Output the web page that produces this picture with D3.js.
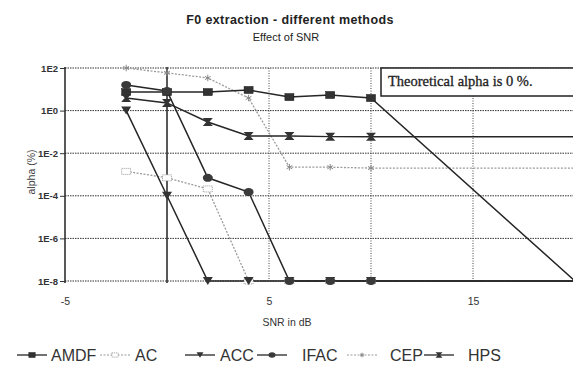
<!DOCTYPE html>
<html>
<head>
<meta charset="utf-8">
<script src="https://cdn.jsdelivr.net/npm/d3@7"></script>
<style>
  body { margin: 0; background: #fff; }
  svg { display: block; }
</style>
</head>
<body>
<svg id="chart" width="573" height="376"></svg>
<script>
// SNR values (dB) with markers; the last point of every series sits at TAIL_SNR
const snr = [-2, 0, 2, 4, 6, 8, 10];
const TAIL_SNR = 20;

// alpha (%) per method
const amdf = [7.4, 7.4, 7.4, 9.3, 4.3, 5.4, 3.9, 1e-8];
const ac   = [1.4e-3, 7e-4, 2.1e-4, 1e-8, 1e-8, 1e-8, 1e-8, 1e-8];
const acc  = [1.0, 1e-4, 1e-8, 1e-8, 1e-8, 1e-8, 1e-8, 1e-8];
const ifac = [16, 8.3, 7e-4, 1.5e-4, 1e-8, 1e-8, 1e-8, 1e-8];
const cep  = [100, 59, 34, 3.9, 2.2e-3, 2.2e-3, 2e-3, 2e-3];
const hps  = [3.9, 2.3, 0.29, 0.065, 0.065, 0.06, 0.06, 0.06];

const yTicks = [1e2, 1e0, 1e-2, 1e-4, 1e-6, 1e-8];
const yTickLabels = ['1E2', '1E0', '1E-2', '1E-4', '1E-6', '1E-8'];
const xTicks = [-5, 5, 15];
const xGrid = [5, 10, 15, 20];

const seriesNames = ['AMDF', 'AC', 'ACC', 'IFAC', 'CEP', 'HPS'];
const seriesValues = [amdf, ac, acc, ifac, cep, hps];

const dark = '#262626';
const light = '#9a9a9a';
const styles = {
    AMDF: { stroke: dark, dash: null, marker: 'square' },
    AC:   { stroke: light, dash: '2,1.5', marker: 'hatch' },
    ACC:  { stroke: dark, dash: null, marker: 'triangle' },
    IFAC: { stroke: dark, dash: null, marker: 'circle' },
    CEP:  { stroke: light, dash: '2,1.5', marker: 'star' },
    HPS:  { stroke: dark, dash: null, marker: 'bowtie' }
};

const svg = d3.select('#chart');
const margin = { top: 68, left: 65, bottom: 281 };

const x = d3.scaleLinear().domain([-5, 20]).range([margin.left, 575]);
const y = d3.scaleLog().domain([1e-8, 1e2]).range([margin.bottom, margin.top]);

// titles
svg.append('text')
    .attr('x', 290).attr('y', 24)
    .attr('text-anchor', 'middle')
    .attr('font-family', 'Liberation Sans, Arial, sans-serif')
    .attr('font-weight', 'bold')
    .attr('font-size', 12.5)
    .attr('letter-spacing', 0.4)
    .attr('fill', '#222')
    .text('F0 extraction - different methods');

svg.append('text')
    .attr('x', 286).attr('y', 41)
    .attr('text-anchor', 'middle')
    .attr('font-family', 'Liberation Sans, Arial, sans-serif')
    .attr('font-size', 11)
    .attr('fill', '#222')
    .text('Effect of SNR');

// horizontal grid lines
svg.append('g')
    .selectAll('line')
    .data(yTicks)
    .join('line')
    .attr('x1', margin.left).attr('x2', 573)
    .attr('y1', d => y(d)).attr('y2', d => y(d))
    .attr('stroke', '#333')
    .attr('stroke-width', 1)
    .attr('stroke-dasharray', '1.5,1');

// vertical grid lines
svg.append('g')
    .selectAll('line')
    .data(xGrid)
    .join('line')
    .attr('x1', d => x(d)).attr('x2', d => x(d))
    .attr('y1', margin.top).attr('y2', margin.bottom)
    .attr('stroke', '#444')
    .attr('stroke-width', 1)
    .attr('stroke-dasharray', '1,1.5');

// value axis (left edge) and crossing line at 0 dB
[-5, 0].forEach(v => {
    svg.append('line')
        .attr('x1', x(v)).attr('x2', x(v))
        .attr('y1', margin.top - 1).attr('y2', margin.bottom + 2)
        .attr('stroke', '#222')
        .attr('stroke-width', 1.5);
});

// y axis ticks and labels
const yAxis = d3.axisLeft(y)
    .tickValues(yTicks)
    .tickSize(5)
    .tickFormat((d, i) => yTickLabels[i]);

const gy = svg.append('g')
    .attr('transform', `translate(${margin.left},0)`)
    .call(yAxis);
gy.select('.domain').remove();
gy.selectAll('.tick line').attr('stroke', '#333');
gy.selectAll('.tick text')
    .attr('font-family', 'Liberation Sans, Arial, sans-serif')
    .attr('font-size', 9.5)
    .attr('font-weight', 'bold')
    .attr('fill', '#333')
    .attr('x', -7);

// x axis labels
const xAxis = d3.axisBottom(x)
    .tickValues(xTicks)
    .tickSize(0)
    .tickFormat(d => String(d));

const gx = svg.append('g')
    .attr('transform', `translate(0,${margin.bottom})`)
    .call(xAxis);
gx.select('.domain').remove();
gx.selectAll('.tick text')
    .attr('font-family', 'Liberation Sans, Arial, sans-serif')
    .attr('font-size', 10.5)
    .attr('fill', '#333')
    .attr('dy', 0)
    .attr('y', 24);

svg.append('text')
    .attr('x', 287).attr('y', 326)
    .attr('text-anchor', 'middle')
    .attr('font-family', 'Liberation Sans, Arial, sans-serif')
    .attr('font-size', 10.5)
    .attr('fill', '#333')
    .text('SNR in dB');

svg.append('text')
    .attr('transform', 'translate(35,172) rotate(-90)')
    .attr('text-anchor', 'middle')
    .attr('font-family', 'Liberation Sans, Arial, sans-serif')
    .attr('font-size', 10.5)
    .attr('fill', '#444')
    .text('alpha (%)');

// plot clip
svg.append('defs')
    .append('clipPath')
    .attr('id', 'plot-clip')
    .append('rect')
    .attr('x', margin.left - 8).attr('y', margin.top - 8)
    .attr('width', 573 - margin.left + 8)
    .attr('height', margin.bottom - margin.top + 16);

const xs = snr.concat([TAIL_SNR]);

const line = d3.line()
    .x(d => x(d[0]))
    .y(d => y(d[1]));

// marker shapes
const drawMarker = (g, type, color, scale) => {
    const s = scale || 1;
    if (type === 'square') {
        g.append('rect')
            .attr('x', -4.5 * s).attr('y', -3.5 * s)
            .attr('width', 9 * s).attr('height', 7 * s)
            .attr('fill', '#333').attr('stroke', '#111').attr('stroke-width', 0.5);
    } else if (type === 'hatch') {
        g.append('rect')
            .attr('x', -4.5 * s).attr('y', -3 * s)
            .attr('width', 9 * s).attr('height', 6 * s)
            .attr('fill', '#fff').attr('stroke', light)
            .attr('stroke-width', 1).attr('stroke-dasharray', '1,1');
    } else if (type === 'triangle') {
        g.append('path')
            .attr('d', `M${-5 * s},${-4 * s} L${5 * s},${-4 * s} L0,${4 * s} Z`)
            .attr('fill', '#333');
    } else if (type === 'circle') {
        g.append('ellipse')
            .attr('rx', 5 * s).attr('ry', 4 * s)
            .attr('fill', '#3a3a3a');
    } else if (type === 'star') {
        g.append('path')
            .attr('d', d3.symbol().type(d3.symbolAsterisk).size(30 * s * s))
            .attr('fill', 'none').attr('stroke', '#888').attr('stroke-width', 1);
    } else if (type === 'bowtie') {
        g.append('path')
            .attr('d', `M${-5 * s},${-4 * s} L${5 * s},${-4 * s} L${1.5 * s},0 L${5 * s},${4 * s} L${-5 * s},${4 * s} L${-1.5 * s},0 Z`)
            .attr('fill', '#333');
    }
};

const plot = svg.append('g').attr('clip-path', 'url(#plot-clip)');

// light (dotted) series first, dark series on top
const order = ['AC', 'CEP', 'AMDF', 'ACC', 'IFAC', 'HPS'];
order.forEach(name => {
    const vals = seriesValues[seriesNames.indexOf(name)];
    const st = styles[name];
    const pts = xs.map((v, i) => [v, vals[i]]);
    plot.append('path')
        .datum(pts)
        .attr('fill', 'none')
        .attr('stroke', st.stroke)
        .attr('stroke-width', st.stroke === dark ? 1.5 : 1.3)
        .attr('stroke-dasharray', st.dash)
        .attr('d', line);
});
order.forEach(name => {
    const vals = seriesValues[seriesNames.indexOf(name)];
    const st = styles[name];
    snr.forEach((v, i) => {
        const g = plot.append('g')
            .attr('transform', `translate(${x(v)},${y(vals[i])})`);
        drawMarker(g, st.marker, st.stroke);
    });
});

// note box
const note = svg.append('g');
note.append('rect')
    .attr('x', 381).attr('y', 68)
    .attr('width', 200).attr('height', 28)
    .attr('fill', '#fff')
    .attr('stroke', '#222')
    .attr('stroke-width', 1.5);
note.append('text')
    .attr('x', 388).attr('y', 86)
    .attr('font-family', 'Liberation Serif, Times New Roman, serif')
    .attr('font-size', 14.5)
    .attr('fill', '#222')
    .attr('stroke', '#222')
    .attr('stroke-width', 0.3)
    .text('Theoretical alpha is 0 %.');

// legend
const legendItems = [
    { name: 'AMDF', cx: 32, tx: 51 },
    { name: 'AC', cx: 115, tx: 135 },
    { name: 'ACC', cx: 200, tx: 220 },
    { name: 'IFAC', cx: 272, tx: 302 },
    { name: 'CEP', cx: 362, tx: 390 },
    { name: 'HPS', cx: 439, tx: 468 }
];
const legend = svg.append('g');
legendItems.forEach(it => {
    const st = styles[it.name];
    legend.append('line')
        .attr('x1', it.cx - 15).attr('x2', it.cx + 15)
        .attr('y1', 355).attr('y2', 355)
        .attr('stroke', st.stroke)
        .attr('stroke-width', st.stroke === dark ? 1.3 : 1.1)
        .attr('stroke-dasharray', st.dash);
    const g = legend.append('g').attr('transform', `translate(${it.cx},355)`);
    drawMarker(g, st.marker, st.stroke, 0.7);
    legend.append('text')
        .attr('x', it.tx).attr('y', 361)
        .attr('font-family', 'Liberation Sans, Arial, sans-serif')
        .attr('font-size', 16)
        .attr('fill', '#333')
        .text(it.name);
});
</script>
</body>
</html>
